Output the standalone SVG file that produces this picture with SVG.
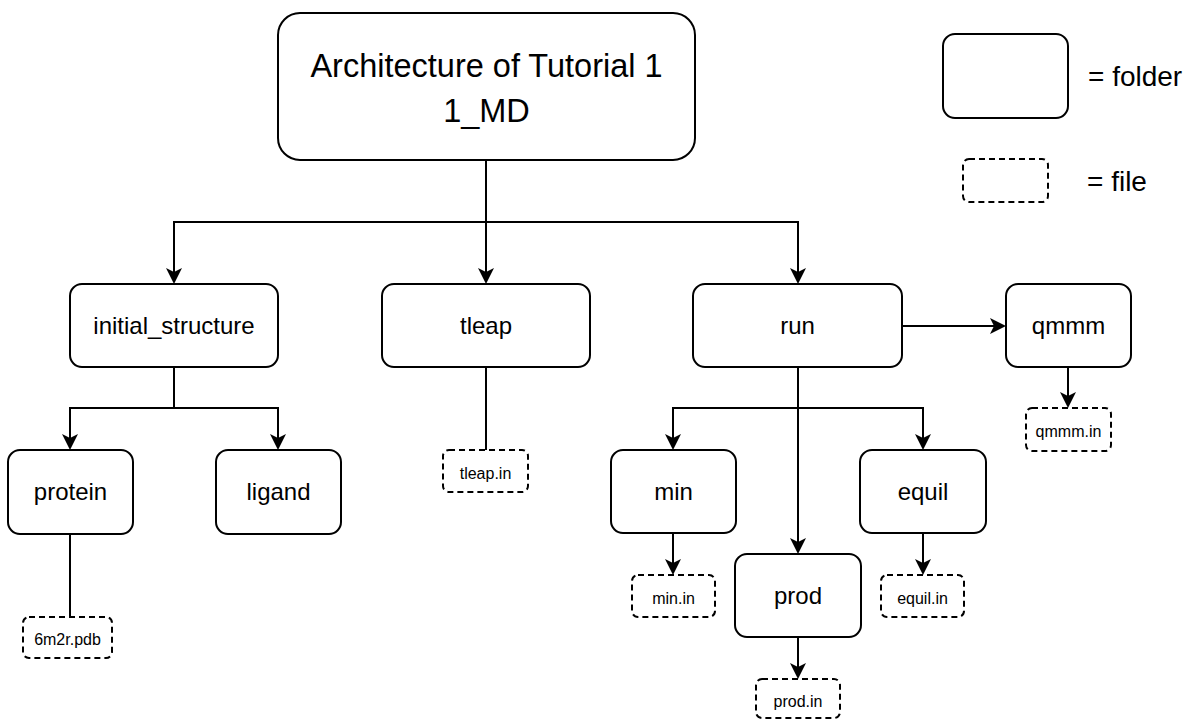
<svg xmlns="http://www.w3.org/2000/svg" width="1196" height="719" viewBox="0 0 1196 719">
<style>
.folder{fill:#fff;stroke:#000;stroke-width:2}
.file{fill:#fff;stroke:#000;stroke-width:2;stroke-dasharray:6 4}
.lbl{font-family:"Liberation Sans",Arial,Helvetica,sans-serif;font-size:24px;fill:#000;text-anchor:middle}
.flbl{font-family:"Liberation Sans",Arial,Helvetica,sans-serif;font-size:16px;fill:#000;text-anchor:middle}
.title{font-family:"Liberation Sans",Arial,Helvetica,sans-serif;font-size:32.5px;fill:#000;text-anchor:middle}
.leg{font-family:"Liberation Sans",Arial,Helvetica,sans-serif;font-size:28px;fill:#000}
.edge{fill:none;stroke:#000;stroke-width:2}
</style>
<defs>
<marker id="arr" markerUnits="userSpaceOnUse" markerWidth="20" markerHeight="20" viewBox="0 -10 20 20" refX="12" refY="0" orient="auto">
<path d="M0,-8 L16,0 L0,8 L4,0 Z" fill="#000"/>
</marker>
</defs>
<rect width="1196" height="719" fill="#fff"/>
<g id="connectors">
<path class="edge" d="M486,160 V222 H174 V280" marker-end="url(#arr)"/>
<path class="edge" d="M486,160 V280" marker-end="url(#arr)"/>
<path class="edge" d="M486,222 H798 V280" marker-end="url(#arr)"/>
<path class="edge" d="M174,367 V408 H70 V446" marker-end="url(#arr)"/>
<path class="edge" d="M174,408 H278 V446" marker-end="url(#arr)"/>
<path class="edge" d="M70,534 V617"/>
<path class="edge" d="M486,367 V450"/>
<path class="edge" d="M902,326 H1002" marker-end="url(#arr)"/>
<path class="edge" d="M1068,367 V404" marker-end="url(#arr)"/>
<path class="edge" d="M798,367 V408 H673 V446" marker-end="url(#arr)"/>
<path class="edge" d="M798,408 H923 V446" marker-end="url(#arr)"/>
<path class="edge" d="M798,367 V550" marker-end="url(#arr)"/>
<path class="edge" d="M673,533 V571" marker-end="url(#arr)"/>
<path class="edge" d="M923,533 V571" marker-end="url(#arr)"/>
<path class="edge" d="M798,637 V675" marker-end="url(#arr)"/>
</g>
<g id="root">
<rect class="folder" x="278" y="13" width="417" height="147" rx="22"/>
<text class="title" x="486.5" y="77">Architecture of Tutorial 1</text>
<text class="title" x="486.5" y="122">1_MD</text>
</g>
<g id="legend-folder">
<rect class="folder" x="943" y="34" width="125" height="84" rx="12"/>
<text class="leg" x="1088" y="86">= folder</text>
</g>
<g id="legend-file">
<rect class="file" x="963" y="159" width="85" height="43" rx="6"/>
<text class="leg" x="1087" y="191">= file</text>
</g>
<g id="initial_structure">
<rect class="folder" x="70" y="284" width="208" height="83" rx="12"/>
<text class="lbl" x="174" y="334">initial_structure</text>
</g>
<g id="tleap">
<rect class="folder" x="382" y="284" width="208" height="83" rx="12"/>
<text class="lbl" x="486" y="334">tleap</text>
</g>
<g id="run">
<rect class="folder" x="693" y="284" width="209" height="83" rx="12"/>
<text class="lbl" x="797.5" y="334">run</text>
</g>
<g id="qmmm">
<rect class="folder" x="1006" y="284" width="125" height="83" rx="12"/>
<text class="lbl" x="1068.5" y="334">qmmm</text>
</g>
<g id="protein">
<rect class="folder" x="8" y="450" width="125" height="84" rx="12"/>
<text class="lbl" x="70.5" y="500">protein</text>
</g>
<g id="ligand">
<rect class="folder" x="216" y="450" width="125" height="84" rx="12"/>
<text class="lbl" x="278.5" y="500">ligand</text>
</g>
<g id="min">
<rect class="folder" x="611" y="450" width="125" height="83" rx="12"/>
<text class="lbl" x="673.5" y="500">min</text>
</g>
<g id="equil">
<rect class="folder" x="860" y="450" width="126" height="83" rx="12"/>
<text class="lbl" x="923" y="500">equil</text>
</g>
<g id="prod">
<rect class="folder" x="735" y="554" width="126" height="83" rx="12"/>
<text class="lbl" x="798" y="604">prod</text>
</g>
<g id="file-6m2r">
<rect class="file" x="23" y="617" width="89" height="41" rx="6"/>
<text class="flbl" x="67.5" y="645">6m2r.pdb</text>
</g>
<g id="file-tleap">
<rect class="file" x="443" y="450" width="85" height="42" rx="6"/>
<text class="flbl" x="485.5" y="479">tleap.in</text>
</g>
<g id="file-qmmm">
<rect class="file" x="1026" y="408" width="85" height="43" rx="6"/>
<text class="flbl" x="1068.5" y="437">qmmm.in</text>
</g>
<g id="file-min">
<rect class="file" x="632" y="575" width="83" height="42" rx="6"/>
<text class="flbl" x="673.5" y="604">min.in</text>
</g>
<g id="file-equil">
<rect class="file" x="881" y="575" width="83" height="42" rx="6"/>
<text class="flbl" x="922.5" y="604">equil.in</text>
</g>
<g id="file-prod">
<rect class="file" x="756" y="679" width="84" height="39" rx="6"/>
<text class="flbl" x="798" y="707">prod.in</text>
</g>
</svg>
